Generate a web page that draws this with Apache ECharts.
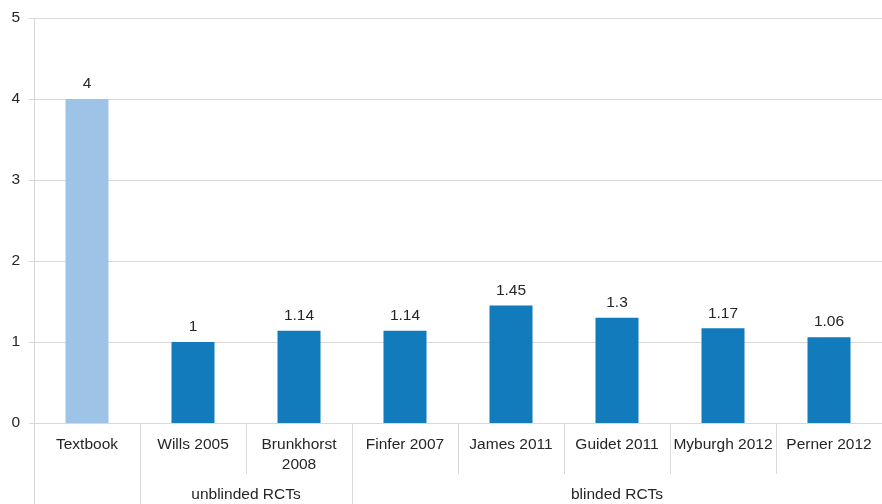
<!DOCTYPE html>
<html>
	<head>
		<meta charset="utf-8">
		<title>Trials</title>
		<script src="https://cdn.jsdelivr.net/npm/echarts@6/dist/echarts.min.js"></script>
	</head>
	<body style="margin:0;padding:0">
		<div id="chart" style="width: 882px;height:504px;border:none"></div>
	</body>
	<script type="text/javascript">
		var categories = ["Textbook", "Wills 2005", "Brunkhorst\n2008", "Finfer 2007", "James 2011", "Guidet 2011", "Myburgh 2012", "Perner 2012"];
		var values = [4, 1, 1.14, 1.14, 1.45, 1.3, 1.17, 1.06];
		var yTicks = [0, 1, 2, 3, 4, 5];
		// groups of studies, by category index (from inclusive, to exclusive)
		var groupNames = ["unblinded RCTs", "blinded RCTs"];
		var groupFrom = [1, 3];
		var groupTo = [3, 8];

		var font = "'Liberation Sans', Arial, Helvetica, sans-serif";
		var gridColor = "#d9d9d9";
		var textColor = "#262626";

		var barData = values.map(function (v, i) {
			return {
				value: v,
				itemStyle: { color: i === 0 ? "#9dc3e6" : "#127bbb" }
			};
		});

		var groupMid = groupNames.map(function (n, i) {
			return (groupFrom[i] + groupTo[i]) / 2;
		});
		var groupEdges = [0].concat(groupFrom);

		var myChart = echarts.init(document.getElementById('chart'));
		var option = {
			backgroundColor: "#fff",
			animation: false,
			grid: { left: 34, right: 0, top: 18, bottom: 81, containLabel: false },
			xAxis: [{
				type: "category",
				data: categories,
				position: "bottom",
				axisLine: { lineStyle: { color: gridColor, width: 1 } },
				axisTick: { show: true, length: 51, interval: 0, lineStyle: { color: gridColor } },
				axisLabel: {
					interval: 0,
					margin: 12,
					color: textColor,
					fontSize: 15.5,
					lineHeight: 20,
					fontFamily: font
				}
			}, {
				type: "value",
				min: 0,
				max: categories.length,
				position: "bottom",
				splitLine: { show: false },
				axisLine: { show: false },
				axisTick: {
					show: true,
					length: 81,
					customValues: groupEdges,
					lineStyle: { color: gridColor }
				},
				axisLabel: {
					customValues: groupMid,
					margin: 64,
					color: textColor,
					fontSize: 15.5,
					fontFamily: font,
					formatter: function (v) {
						var i = groupMid.indexOf(v);
						return i >= 0 ? groupNames[i] : "";
					}
				}
			}],
			yAxis: {
				type: "value",
				min: yTicks[0],
				max: yTicks[yTicks.length - 1],
				interval: 1,
				axisLine: { show: true, lineStyle: { color: gridColor } },
				axisTick: { show: true, length: 5, lineStyle: { color: gridColor } },
				splitLine: { lineStyle: { color: gridColor } },
				axisLabel: { margin: 14, color: textColor, fontSize: 15.5, fontFamily: font }
			},
			series: [{
				type: "bar",
				xAxisIndex: 0,
				data: barData,
				barWidth: 43,
				label: {
					show: true,
					position: "top",
					distance: 7,
					color: textColor,
					fontSize: 15.5,
					fontFamily: font
				}
			}]
		};
		myChart.setOption(option);
	</script>
</html>
